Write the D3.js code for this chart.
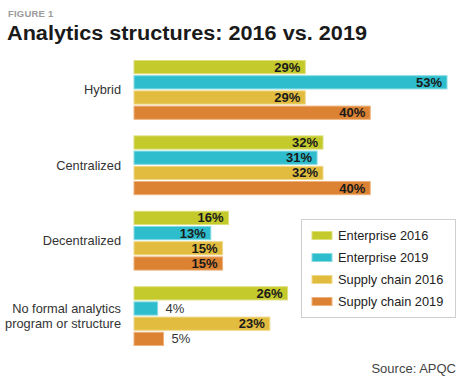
<!DOCTYPE html>
<html><head><meta charset="utf-8">
<script src="https://cdn.jsdelivr.net/npm/d3@7"></script>
<style>body{margin:0;background:#fff}svg{display:block}text{font-family:"Liberation Sans",Arial,sans-serif}</style>
</head><body><div id="c"></div>
<script>
const categories = ["Hybrid", "Centralized", "Decentralized", "No formal analytics|program or structure"];
const seriesNames = ["Enterprise 2016", "Enterprise 2019", "Supply chain 2016", "Supply chain 2019"];
const enterprise2016 = [29, 32, 16, 26];
const enterprise2019 = [53, 31, 13, 4];
const supply2016 = [29, 32, 15, 23];
const supply2019 = [40, 40, 15, 5];
const colors = ["#c4c92c", "#2dbdcc", "#e1bc3e", "#dc8233"];
const strokes = ["#dde07a", "#86dbe3", "#f0d98a", "#eeb27c"];
const series = [enterprise2016, enterprise2019, supply2016, supply2019];

const W = 469, H = 391;
const svg = d3.select("#c").append("svg").attr("width", W).attr("height", H);

svg.append("text").attr("x", 8).attr("y", 17).attr("font-size", 9.5).attr("font-weight", "bold")
  .attr("fill", "#9a9a9a").attr("letter-spacing", 0.2).text("FIGURE 1");
svg.append("text").attr("x", 7).attr("y", 39.5).attr("font-size", 20).attr("font-weight", "bold")
  .attr("fill", "#1a1a1a").attr("textLength", 360).attr("lengthAdjust", "spacingAndGlyphs")
  .text("Analytics structures: 2016 vs. 2019");

const x = d3.scaleLinear().domain([0, 53]).range([134, 447]);
const y0 = d3.scaleBand().domain(categories).range([60.5, 345.5]).paddingInner(0.22).paddingOuter(0);
const y1 = d3.scaleBand().domain(d3.range(4)).range([0, y0.bandwidth()]).paddingInner(0.13);

categories.forEach((cat, ci) => {
  const g = svg.append("g").attr("transform", `translate(0,${y0(cat)})`);
  series.forEach((s, si) => {
    const v = s[ci];
    const yy = y1(si), h = y1.bandwidth();
    g.append("rect").attr("x", x(0)).attr("y", yy).attr("width", x(v) - x(0)).attr("height", h)
      .attr("fill", colors[si]).attr("stroke", strokes[si]).attr("stroke-width", 1);
    const inside = v >= 10;
    g.append("text")
      .attr("x", inside ? x(v) - 5 : x(v) + 8)
      .attr("y", yy + h / 2 + 4.5)
      .attr("text-anchor", inside ? "end" : "start")
      .attr("font-size", 13).attr("font-weight", inside ? "bold" : "normal")
      .attr("fill", inside ? "#1a1a1a" : "#333")
      .text(v + "%");
  });
  const lines = cat.split("|");
  const cy = y0(cat) + y0.bandwidth() / 2;
  const lh = 15;
  lines.forEach((ln, li) => {
    svg.append("text").attr("x", 121).attr("text-anchor", "end")
      .attr("y", cy + 4.5 + (li - (lines.length - 1) / 2) * lh)
      .attr("font-size", 12.8).attr("fill", "#333").text(ln);
  });
});

// legend
const lg = svg.append("g");
lg.append("rect").attr("x", 301.5).attr("y", 219.5).attr("width", 154).attr("height", 98)
  .attr("fill", "#fff").attr("stroke", "#cfcfcf").attr("stroke-width", 1);
seriesNames.forEach((n, i) => {
  const cy = 235.5 + i * 22;
  lg.append("rect").attr("x", 312).attr("y", cy - 4).attr("width", 20).attr("height", 8)
    .attr("fill", colors[i]).attr("stroke", strokes[i]).attr("stroke-width", 1);
  lg.append("text").attr("x", 338).attr("y", cy + 4.5).attr("font-size", 12.8)
    .attr("fill", "#222").text(n);
});

svg.append("text").attr("x", 456).attr("y", 373).attr("text-anchor", "end")
  .attr("font-size", 13).attr("fill", "#444").text("Source: APQC");
</script></body></html>
